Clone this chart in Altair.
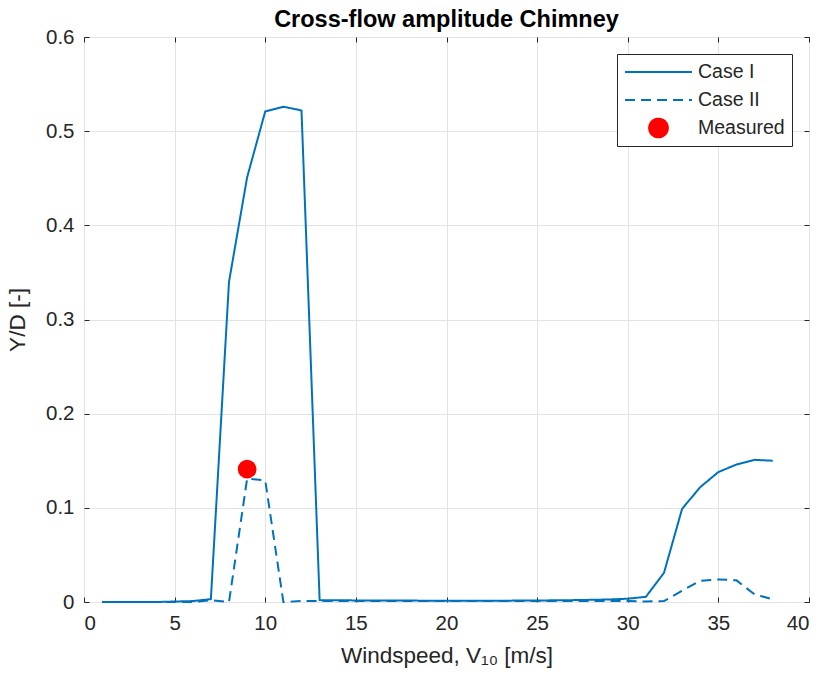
import altair as alt
import pandas as pd

wind = list(range(1, 39))
case1 = [0.0, 0.0, 0.0, 0.0, 0.0005, 0.001, 0.003, 0.34, 0.451, 0.521, 0.526, 0.522, 0.002,
         0.0018, 0.0017, 0.0016, 0.0015, 0.0015, 0.0014, 0.0013, 0.0013, 0.0013, 0.0014,
         0.0015, 0.0016, 0.0018, 0.002, 0.0023, 0.0027, 0.0035,
         0.0055, 0.031, 0.099, 0.122, 0.138, 0.146, 0.151, 0.150]
case2 = [0.0, 0.0, 0.0, 0.0, 0.0, 0.0, 0.002, 0.0, 0.131, 0.129, 0.0,
         0.001, 0.001, 0.001, 0.001, 0.001, 0.001, 0.001, 0.001, 0.001, 0.001, 0.001,
         0.001, 0.001, 0.001, 0.001, 0.001, 0.001, 0.001, 0.001,
         0.0005, 0.001, 0.012, 0.0225, 0.024, 0.023, 0.008, 0.003]
meas_x = [9]
meas_y = [0.141]
series = ["Case I", "Case II", "Measured"]
x_ticks = [0, 5, 10, 15, 20, 25, 30, 35, 40]
y_ticks = [0, 0.1, 0.2, 0.3, 0.4, 0.5, 0.6]

lines = pd.DataFrame({
    "x": wind + wind,
    "y": case1 + case2,
    "series": ["Case I"] * len(wind) + ["Case II"] * len(wind),
})
meas = pd.DataFrame({"x": meas_x, "y": meas_y, "series": ["Measured"]})

FONT = "Liberation Sans"
TXT = "#262626"
BLUE = "#0072BD"

xscale = alt.Scale(domain=[0, 40], nice=False)
yscale = alt.Scale(domain=[0, 0.6], nice=False)

legend = alt.Legend(
    title=None, orient="none", legendX=533, legendY=17,
    fillColor="white", strokeColor=TXT, padding=7,
    labelFont=FONT, labelFontSize=19.5, labelColor=TXT,
    symbolStrokeWidth=2, rowPadding=6, labelOffset=5, clipHeight=22,
)

color = alt.Color("series:N", scale=alt.Scale(domain=series, range=[BLUE, BLUE, "red"]), legend=legend)

xaxis = alt.Axis(values=x_ticks, title="Windspeed, V₁₀ [m/s]", grid=True,
                 domain=False, tickSize=5, offset=-5, labelPadding=11, titlePadding=11)
yaxis = alt.Axis(values=y_ticks, title="Y/D [-]", grid=True,
                 domain=False, tickSize=5, offset=-5, labelPadding=10, titlePadding=16,
                 labelExpr="datum.value == 0 ? '0' : format(datum.value, '.1f')")

line_layer = alt.Chart(lines).mark_line(strokeWidth=2).encode(
    x=alt.X("x:Q", scale=xscale, axis=xaxis),
    y=alt.Y("y:Q", scale=yscale, axis=yaxis),
    color=color,
    strokeDash=alt.StrokeDash("series:N", scale=alt.Scale(domain=series, range=[[1, 0], [10, 6], [1, 0]]), legend=legend),
)

point_layer = alt.Chart(meas).mark_point(filled=True, opacity=1).encode(
    x=alt.X("x:Q", scale=xscale, axis=alt.Axis(orient="top", values=x_ticks, labels=False,
                                               title=None, grid=False, domain=False, tickSize=5, offset=-5)),
    y=alt.Y("y:Q", scale=yscale, axis=alt.Axis(orient="right", values=y_ticks,
                                               labels=False, title=None, grid=False, domain=False,
                                               tickSize=5, offset=-5)),
    color=color,
    shape=alt.Shape("series:N", scale=alt.Scale(domain=series, range=["stroke", "stroke", "circle"]), legend=legend),
    size=alt.Size("series:N", scale=alt.Scale(type="ordinal", domain=series, range=[4489, 4489, 350]), legend=legend),
)

chart = alt.layer(line_layer, point_layer).resolve_axis(x="independent", y="independent").properties(
    width=725, height=565,
    background="white",
    autosize=alt.AutoSizeParams(type="none"),
    padding={"left": 84, "top": 37, "right": 15, "bottom": 80},
    title=alt.TitleParams("Cross-flow amplitude Chimney", font=FONT, fontSize=23.5, fontWeight="bold",
                          color="black", offset=6, dy=10),
).configure_view(
    stroke=TXT, strokeWidth=1, fill="white",
).configure_axis(
    labelFont=FONT, labelFontSize=20.5, labelColor=TXT, tickColor=TXT,
    titleFont=FONT, titleFontSize=22.5, titleFontWeight="normal", titleColor=TXT,
    gridColor="#e3e3e3", gridWidth=1,
)

chart.save("out.html", embed_options={"renderer": "svg", "actions": False})
